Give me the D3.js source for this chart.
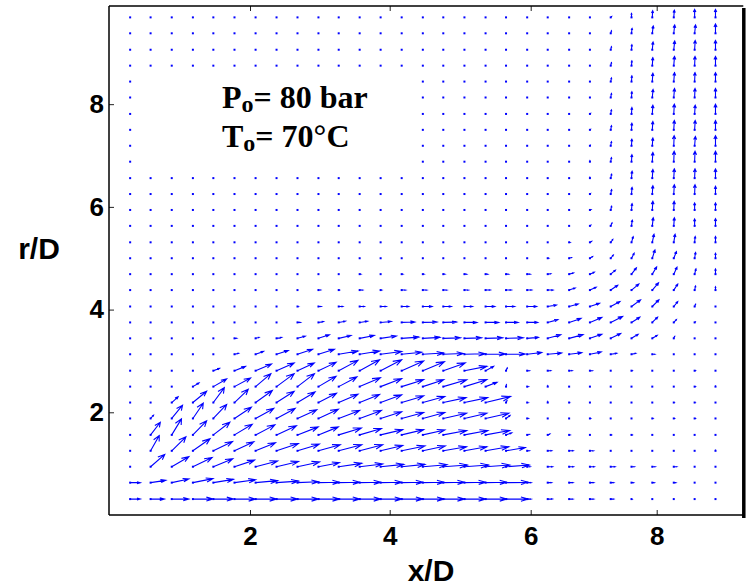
<!DOCTYPE html>
<html><head><meta charset="utf-8">
<script src="https://cdn.jsdelivr.net/npm/d3@7"></script>
<style>body{margin:0;background:#fff;} svg{display:block;}</style>
</head><body>
<svg id="chart" width="746" height="588"></svg>
<script>
const _ = null; // masked (no data) cells under the annotation

// axis ticks
const xTicks = [2, 4, 6, 8];
const rTicks = [2, 4, 6, 8];

// grid positions (x/D, r/D)
const xGrid = [0.30,0.59,0.89,1.19,1.48,1.78,2.08,2.38,2.68,2.98,3.27,3.57,3.87,4.17,4.47,4.76,5.06,5.36,5.65,5.95,6.27,6.61,6.94,7.27,7.60,7.93,8.27,8.60,8.93];
const rGrid = [0.31,0.63,0.94,1.25,1.56,1.88,2.19,2.50,2.81,3.13,3.44,3.75,4.06,4.38,4.69,5.00,5.31,5.63,5.94,6.25,6.56,6.88,7.19,7.50,7.81,8.13,8.44,8.75,9.06,9.38,9.69];

// axial velocity component (% of jet velocity), one row per rGrid value
const U = [
[48,65,81,95,95,100,100,100,100,100,100,100,100,100,100,100,100,100,105,19,25,21,21,16,3,0,0,0,0],
[48,72,81,95,95,100,105,105,100,100,100,100,100,100,100,100,100,100,105,19,21,21,21,16,11,11,11,0,0],
[0,67,81,91,92,95,105,105,105,100,110,110,110,110,114,114,114,114,110,14,26,23,23,23,16,16,16,0,0],
[0,41,67,81,91,92,95,104,104,104,110,110,105,110,106,110,106,110,91,10,21,21,19,0,0,0,0,0,0],
[0,46,46,65,78,84,92,95,99,95,108,104,105,104,104,111,111,114,27,10,11,5,0,3,3,0,0,0,0],
[0,14,51,49,63,80,87,89,92,95,100,104,100,104,104,110,106,110,19,5,0,0,3,0,0,3,3,3,0],
[0,0,30,65,52,65,80,84,84,86,92,95,100,104,104,108,110,118,5,5,0,3,0,0,0,0,3,3,0],
[0,0,0,29,63,76,73,84,81,84,87,99,100,104,99,111,106,54,2,5,0,0,0,0,0,0,0,3,0],
[0,0,0,0,29,52,76,84,80,84,92,95,100,104,102,104,106,38,6,10,16,16,13,0,3,0,0,3,0],
[0,0,0,0,0,19,38,56,72,76,92,95,100,95,99,95,99,94,91,75,74,67,60,32,23,14,0,0,0],
[0,0,0,0,0,10,16,24,37,52,59,70,75,81,81,81,81,81,81,57,69,74,63,53,35,26,5,0,0],
[0,0,0,0,0,0,0,0,14,24,32,38,51,62,67,63,59,62,57,54,54,63,63,63,44,28,14,3,0],
[0,0,0,0,0,0,0,0,5,13,19,22,27,33,43,38,38,43,41,48,46,48,51,49,48,35,21,5,0],
[0,0,0,0,0,0,0,0,0,10,2,14,5,19,19,17,19,22,25,22,28,32,33,37,39,33,21,5,0],
[0,0,0,0,0,0,0,0,0,0,0,5,0,5,5,7,10,10,12,14,16,23,23,25,26,23,17,7,0],
[0,0,0,0,0,0,0,0,0,0,0,0,0,0,0,0,0,0,0,0,5,12,14,14,14,14,14,5,0],
[0,0,0,0,0,0,0,0,0,0,0,0,0,0,0,0,0,0,0,0,0,5,9,11,9,9,7,3,0],
[0,0,0,0,0,0,0,0,0,0,0,0,0,0,0,0,0,0,0,0,0,0,5,7,4,5,3,0,0],
[0,0,0,0,0,0,0,0,0,0,0,0,0,0,0,0,0,0,0,0,0,0,5,5,3,3,2,0,0],
[0,0,0,0,0,0,0,0,0,0,0,0,0,0,0,0,0,0,0,0,0,0,3,5,3,3,3,2,0],
[0,0,0,0,0,0,0,0,0,0,0,0,0,0,0,0,0,0,0,0,0,0,0,5,3,3,3,2,0],
[0,_,_,_,_,_,_,_,_,_,_,_,_,_,0,0,0,0,0,0,0,0,0,4,2,3,2,2,0],
[0,_,_,_,_,_,_,_,_,_,_,_,_,_,0,0,0,0,0,0,0,0,2,4,2,3,2,4,0],
[0,_,_,_,_,_,_,_,_,_,_,_,_,_,0,0,0,0,0,0,0,0,3,4,2,3,3,3,0],
[0,_,_,_,_,_,_,_,_,_,_,_,_,_,0,0,0,0,0,0,0,0,3,4,2,3,3,3,0],
[0,_,_,_,_,_,_,_,_,_,_,_,_,_,0,0,0,0,0,0,0,0,0,4,2,4,4,2,0],
[0,_,_,_,_,_,_,_,_,_,_,_,_,_,0,0,0,0,0,0,0,0,0,4,2,3,4,2,0],
[0,0,0,0,0,0,0,0,0,0,0,0,0,0,0,0,0,0,0,0,0,0,0,4,2,3,4,2,0],
[0,0,0,0,0,0,0,0,0,0,0,0,0,0,0,0,0,0,0,0,0,0,0,4,2,4,5,3,0],
[0,0,0,0,0,0,0,0,0,0,0,0,0,0,0,0,0,0,0,0,0,0,0,4,3,5,5,5,0],
[0,0,0,0,0,0,0,0,0,0,0,0,0,0,0,0,0,0,0,0,0,0,0,5,0,2,3,0,0]
];

// radial velocity component (% of jet velocity)
const V = [
[0,0,0,0,0,0,0,0,0,0,0,0,0,0,0,0,0,0,0,0,0,0,0,0,0,0,0,0,0],
[0,15,24,26,21,19,13,10,6,3,3,3,3,3,3,3,3,3,2,0,0,0,0,0,0,0,0,0,0],
[0,80,65,60,52,43,37,34,31,26,22,18,15,15,13,11,11,11,11,0,0,0,0,0,0,0,0,0,0],
[0,99,91,78,60,58,52,47,43,39,39,39,34,31,31,26,26,26,21,0,0,0,0,0,0,0,0,0,3],
[0,82,104,91,82,69,65,60,52,52,45,41,34,34,32,28,28,28,13,3,6,0,0,0,0,0,0,0,0],
[0,21,86,99,91,73,65,65,56,60,52,52,43,39,39,34,34,34,19,0,0,0,0,0,0,0,0,0,0],
[0,0,37,73,97,86,78,73,69,60,54,52,50,43,39,32,32,39,13,0,6,0,0,0,0,0,0,0,0],
[0,0,0,24,50,56,84,84,84,67,63,58,52,45,45,45,45,28,13,0,6,0,0,0,0,0,0,0,3],
[0,0,0,0,15,28,43,50,50,54,67,71,71,63,58,50,28,28,18,0,0,0,0,0,0,0,0,0,0],
[0,0,0,0,0,6,18,24,32,32,21,21,18,13,8,5,3,2,2,11,8,10,15,6,6,0,0,0,0],
[0,0,0,0,0,0,6,6,14,23,19,19,15,8,6,3,3,3,3,6,23,24,26,31,26,19,13,0,0],
[0,0,0,0,0,0,0,0,0,6,8,8,6,3,2,2,0,0,0,0,18,26,32,39,34,34,18,3,0],
[0,0,0,0,0,0,0,0,0,0,0,0,0,0,0,0,0,0,0,0,10,16,21,32,43,43,32,15,0],
[0,0,0,0,0,0,0,0,0,0,0,0,0,0,0,0,0,0,0,0,0,13,18,31,39,47,39,26,21],
[0,0,0,0,0,0,0,0,0,0,0,0,0,0,0,0,0,0,0,0,3,8,13,26,41,47,45,34,34],
[0,0,0,0,0,0,0,0,0,0,0,0,0,0,0,0,0,0,0,0,0,5,11,21,32,54,43,37,32],
[0,0,0,0,0,0,0,0,0,0,0,0,0,0,0,0,0,0,0,0,0,0,6,19,37,52,52,37,37],
[0,0,0,0,0,0,0,0,0,0,0,0,0,0,0,0,0,0,0,0,0,0,5,19,37,52,52,45,47],
[0,0,0,0,0,0,0,0,0,0,0,0,0,0,0,0,0,0,0,0,0,0,2,24,41,56,56,45,45],
[0,0,0,0,0,0,0,0,0,0,0,0,0,0,0,0,0,0,0,0,0,0,3,28,43,54,60,60,50],
[0,0,0,0,0,0,0,0,0,0,0,0,0,0,0,0,0,0,0,0,0,0,6,26,45,56,60,60,60],
[0,_,_,_,_,_,_,_,_,_,_,_,_,_,0,0,0,0,0,0,0,0,6,26,45,60,67,67,67],
[0,_,_,_,_,_,_,_,_,_,_,_,_,_,0,0,0,0,0,0,0,0,3,26,43,50,65,60,65],
[0,_,_,_,_,_,_,_,_,_,_,_,_,_,0,0,0,0,0,0,0,0,3,26,43,54,60,60,60],
[0,_,_,_,_,_,_,_,_,_,_,_,_,_,0,0,0,0,0,0,0,0,3,26,41,56,63,56,63],
[0,_,_,_,_,_,_,_,_,_,_,_,_,_,0,0,0,0,0,0,0,0,0,26,37,52,58,58,58],
[0,_,_,_,_,_,_,_,_,_,_,_,_,_,0,0,0,0,0,0,0,0,0,23,37,54,58,58,58],
[0,0,0,0,0,0,0,0,0,0,0,0,0,0,0,0,0,0,0,0,0,0,0,19,31,52,60,60,60],
[0,0,0,0,0,0,0,0,0,0,0,0,0,0,0,0,0,0,0,0,0,0,0,19,32,50,56,60,60],
[0,0,0,0,0,0,0,0,0,0,0,0,0,0,0,0,0,0,0,0,0,0,0,16,32,47,54,54,60],
[0,0,0,0,0,0,0,0,0,0,0,0,0,0,0,0,0,0,0,0,0,0,0,6,26,43,47,52,52]
];

// annotation text
const annoLines = [["P", "o", "= 80 bar"], ["T", "o", "= 70°C"]];
const xLabel = "x/D", yLabel = "r/D";

// sanity check of data shape
[U, V].forEach((M, k) => {
  if (M.length !== rGrid.length) throw new Error((k ? "V" : "U") + " rows " + M.length);
  M.forEach((row, j) => { if (row.length !== xGrid.length) throw new Error((k ? "V" : "U") + " row " + j + " len " + row.length); });
});

const svg = d3.select("#chart");
const x = d3.scaleLinear().domain([0, 2, 4, 6, 8, 9.37]).range([109, 250, 389.7, 530.7, 656.7, 743.3]);
const y = d3.scaleLinear().domain([0, 9.9]).range([515, 6.6]);
const K = 0.003, A = 0.33, B = 0.4;
const blue = "#0000ff";

const vecs = [];
rGrid.forEach((r, j) => xGrid.forEach((xv, i) => {
  const u = U[j][i], v = V[j][i];
  if (u === null || v === null) return;
  vecs.push({x: xv, r, u, v});
}));

const field = svg.append("g");
field.selectAll("rect").data(vecs).join("rect")
  .attr("x", d => x(d.x) - 1).attr("y", d => y(d.r) - 1)
  .attr("width", 2).attr("height", 2).attr("fill", blue);

field.selectAll("path").data(vecs.filter(d => d.u !== 0 || d.v !== 0)).join("path")
  .attr("d", d => {
    const uu = K * d.u, vv = K * d.v, tx = d.x + uu, ty = d.r + vv;
    const h1 = [tx - A * (uu + B * vv), ty - A * (vv - B * uu)];
    const h2 = [tx - A * (uu - B * vv), ty - A * (vv + B * uu)];
    return `M${x(d.x)},${y(d.r)}L${x(tx)},${y(ty)}M${x(h1[0])},${y(h1[1])}L${x(tx)},${y(ty)}L${x(h2[0])},${y(h2[1])}`;
  })
  .attr("fill", "none").attr("stroke", blue).attr("stroke-width", 1.1);

// axes
const sans = "'Liberation Sans', Arial, Helvetica, sans-serif";
const x0 = x.range()[0], x1 = x.range()[x.range().length - 1];
const yb = y.range()[0], yt = 6;

function styleAxis(g) {
  g.select(".domain").remove();
  g.selectAll(".tick line").attr("stroke", "#222").attr("stroke-width", 1);
  g.selectAll(".tick text").attr("font-family", sans).attr("font-weight", "bold")
    .attr("font-size", 26).attr("fill", "#000");
}
svg.append("g").attr("transform", `translate(0,${yb})`)
  .call(d3.axisBottom(x).tickValues(xTicks).tickSizeInner(-5).tickSizeOuter(0).tickPadding(12))
  .call(styleAxis);
svg.append("g").attr("transform", `translate(0,${yt})`)
  .call(d3.axisTop(x).tickValues(xTicks).tickSizeInner(-5).tickSizeOuter(0).tickFormat(""))
  .call(styleAxis);
svg.append("g").attr("transform", `translate(${x0},0)`)
  .call(d3.axisLeft(y).tickValues(rTicks).tickSizeInner(-5).tickSizeOuter(0).tickPadding(5))
  .call(styleAxis);

// frame
svg.append("line").attr("x1", x0).attr("x2", x0).attr("y1", yt).attr("y2", yb).attr("stroke", "#000").attr("stroke-width", 1.5);
svg.append("line").attr("x1", x0).attr("x2", x1).attr("y1", yb).attr("y2", yb).attr("stroke", "#000").attr("stroke-width", 1.5);
svg.append("line").attr("x1", x0).attr("x2", x1).attr("y1", yt).attr("y2", yt).attr("stroke", "#000").attr("stroke-width", 1.5);
svg.append("line").attr("x1", x1 + 0.5).attr("x2", x1 + 0.5).attr("y1", yt + 2).attr("y2", yb + 3).attr("stroke", "#000").attr("stroke-width", 3.5);

// axis labels
svg.append("text").attr("x", 431).attr("y", 581).attr("text-anchor", "middle")
  .attr("font-family", sans).attr("font-weight", "bold").attr("font-size", 30).text(xLabel);
svg.append("text").attr("x", 39).attr("y", 259).attr("text-anchor", "middle")
  .attr("font-family", sans).attr("font-weight", "bold").attr("font-size", 30).text(yLabel);

// annotation
const serif = "'Liberation Serif', 'Times New Roman', Times, serif";
const annoY = [108, 147];
annoLines.forEach((parts, k) => {
  const t = svg.append("text").attr("x", 222).attr("y", annoY[k])
    .attr("font-family", serif).attr("font-weight", "bold").attr("font-size", 32).attr("fill", "#000");
  t.append("tspan").text(parts[0]);
  t.append("tspan").attr("font-size", 24).attr("dy", 4).text(parts[1]);
  t.append("tspan").attr("dy", -4).text(parts[2]);
});
</script>
</body></html>
